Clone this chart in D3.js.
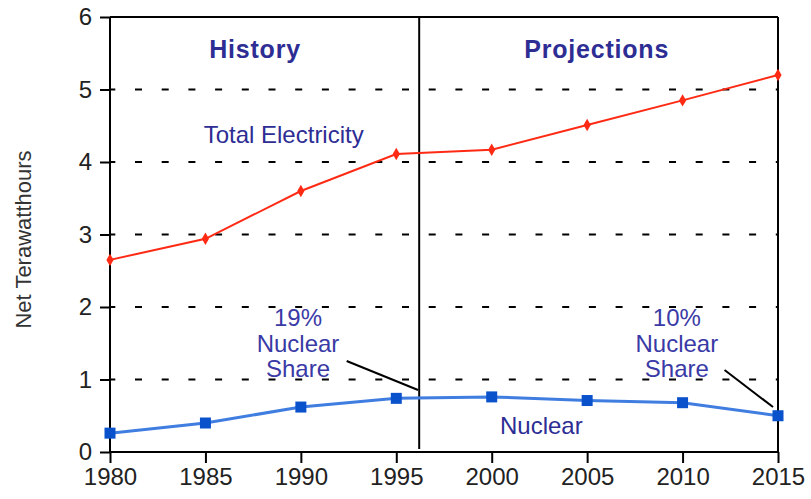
<!DOCTYPE html>
<html>
<head>
<meta charset="utf-8">
<script src="https://cdn.jsdelivr.net/npm/d3@7/dist/d3.min.js"></script>
<style>
  html, body { margin: 0; padding: 0; background: #fff; }
  svg { display: block; font-family: "Liberation Sans", Arial, sans-serif; }
</style>
</head>
<body>
<svg id="chart" width="811" height="499"></svg>
<script>
// Net electricity generation, terawatt-hours
const years = [1980, 1985, 1990, 1995, 2000, 2005, 2010, 2015];
const totalElectricity = [2.65, 2.94, 3.60, 4.11, 4.17, 4.51, 4.85, 5.20];
const nuclear = [0.26, 0.40, 0.62, 0.74, 0.76, 0.71, 0.68, 0.50];
const yTicks = [0, 1, 2, 3, 4, 5, 6];
const xTicks = [1980, 1985, 1990, 1995, 2000, 2005, 2010, 2015];
const splitYear = 1996.2;          // boundary between history and projections
const sectionTitles = ["History", "Projections"];
const shareNotes = [["19%", "Nuclear", "Share"], ["10%", "Nuclear", "Share"]];

const svg = d3.select("#chart");
const margin = { left: 110, right: 33, top: 17, bottom: 47 };
const W = 811, H = 499;

const x = d3.scaleLinear().domain([1980, 2015]).range([margin.left, W - margin.right]);
const y = d3.scaleLinear().domain([0, 6]).range([H - margin.bottom, margin.top]);

const textBlue = "#2d2d94";

// dashed horizontal grid
svg.append("g").selectAll("line")
  .data(yTicks.filter(d => d > 0 && d < 6))
  .join("line")
  .attr("x1", x(1980)).attr("x2", x(2015))
  .attr("y1", d => y(d)).attr("y2", d => y(d))
  .attr("stroke", "#000").attr("stroke-width", 2)
  .attr("stroke-dasharray", "7 19.7").attr("stroke-dashoffset", 1.7);

// frame: top and right edges
svg.append("line").attr("x1", x(1980)).attr("x2", x(2015))
  .attr("y1", y(6)).attr("y2", y(6)).attr("stroke", "#000").attr("stroke-width", 2);
svg.append("line").attr("x1", x(2015)).attr("x2", x(2015))
  .attr("y1", y(6)).attr("y2", y(0)).attr("stroke", "#000").attr("stroke-width", 2);

// history / projections divider
svg.append("line").attr("x1", x(splitYear)).attr("x2", x(splitYear))
  .attr("y1", y(6)).attr("y2", y(0) - 3).attr("stroke", "#000").attr("stroke-width", 2);

// y axis
const yAxis = svg.append("g")
  .attr("transform", `translate(${x(1980)},0)`)
  .call(d3.axisLeft(y).tickValues(yTicks).tickFormat(d3.format("d")).tickSize(10).tickPadding(8));
// x axis
const xAxis = svg.append("g")
  .attr("transform", `translate(0,${y(0)})`)
  .call(d3.axisBottom(x).tickValues(xTicks).tickFormat(d3.format("d")).tickSize(11).tickPadding(5));

[yAxis, xAxis].forEach(g => {
  g.select(".domain").attr("stroke", "#000").attr("stroke-width", 2);
  g.selectAll(".tick line").attr("stroke", "#000").attr("stroke-width", 2);
  g.selectAll(".tick text").attr("fill", "#222").attr("font-size", 24)
    .attr("font-family", "'Liberation Sans', Arial, sans-serif");
});
xAxis.select(".domain").attr("d", `M${x(1980)},0H${x(2015)}`);
yAxis.select(".domain").attr("d", `M0,${y(0)}V${y(6)}`);

// y axis title
svg.append("text")
  .attr("transform", `translate(31,${y(3) + 5}) rotate(-90)`)
  .attr("text-anchor", "middle")
  .attr("font-size", 22).attr("fill", "#333")
  .text("Net Terawatthours");

// section titles
svg.append("text").attr("x", x(1987.6)).attr("y", 58)
  .attr("text-anchor", "middle").attr("font-size", 25).attr("font-weight", "bold")
  .attr("letter-spacing", 0.8)
  .attr("fill", textBlue).text(sectionTitles[0]);
svg.append("text").attr("x", x(2005.5)).attr("y", 58)
  .attr("text-anchor", "middle").attr("font-size", 25).attr("font-weight", "bold")
  .attr("letter-spacing", 0.8)
  .attr("fill", textBlue).text(sectionTitles[1]);

// series labels
svg.append("text").attr("x", x(1989.1)).attr("y", 143)
  .attr("text-anchor", "middle").attr("font-size", 24).attr("fill", textBlue)
  .text("Total Electricity");
svg.append("text").attr("x", x(2002.6)).attr("y", 434)
  .attr("text-anchor", "middle").attr("font-size", 24).attr("fill", textBlue)
  .text("Nuclear");

// nuclear share notes with leader lines
const notes = [
  { cx: 1989.85, lines: shareNotes[0], from: [1992.4, 1.255], to: [1996.14, 0.855] },
  { cx: 2009.7, lines: shareNotes[1], from: [2012.2, 1.13], to: [2014.74, 0.62] }
];
notes.forEach(n => {
  const t = svg.append("text").attr("text-anchor", "middle")
    .attr("font-size", 24).attr("fill", "#3a3aa6");
  n.lines.forEach((s, i) => {
    t.append("tspan").attr("x", x(n.cx)).attr("y", 326 + i * 25.5).text(s);
  });
  svg.append("line")
    .attr("x1", x(n.from[0])).attr("y1", y(n.from[1]))
    .attr("x2", x(n.to[0])).attr("y2", y(n.to[1]))
    .attr("stroke", "#000").attr("stroke-width", 2);
});

// total electricity series
const line = d3.line().x((d, i) => x(years[i])).y(d => y(d));
svg.append("path").datum(totalElectricity)
  .attr("d", line).attr("fill", "none").attr("stroke", "#ff2a14").attr("stroke-width", 2);
svg.append("g").selectAll("path")
  .data(totalElectricity)
  .join("path")
  .attr("d", d3.symbol(d3.symbolDiamond, 45))
  .attr("transform", (d, i) => `translate(${x(years[i])},${y(d)})`)
  .attr("fill", "#ff2a14");

// nuclear series
svg.append("path").datum(nuclear)
  .attr("d", line).attr("fill", "none").attr("stroke", "#3f7de0").attr("stroke-width", 3);
svg.append("g").selectAll("rect")
  .data(nuclear)
  .join("rect")
  .attr("x", (d, i) => x(years[i]) - 5.5).attr("y", d => y(d) - 5.5)
  .attr("width", 11).attr("height", 11)
  .attr("fill", "#0a52cc");
</script>
</body>
</html>
